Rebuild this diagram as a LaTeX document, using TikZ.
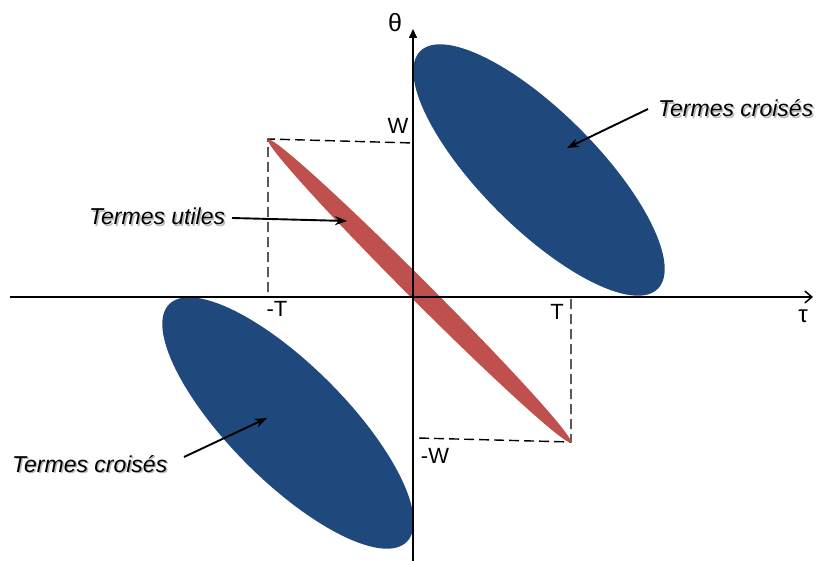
\documentclass[tikz,border=0pt]{standalone}
\usepackage{fontspec}
\setmainfont{Liberation Sans}
\usetikzlibrary{arrows.meta}
\definecolor{cblue}{HTML}{1F497D}
\definecolor{cred}{HTML}{C0504D}
\begin{document}
\begin{tikzpicture}[x=1pt,y=-1pt,
  axis/.style={line width=1.5pt},
  guide/.style={dash pattern=on 10pt off 5pt, line width=1.4pt},
  callout/.style={line width=1.9pt,-{Stealth[length=12pt,width=9pt]}},
  lbl/.style={font=\fontsize{23}{27}\selectfont\itshape, inner sep=0pt, anchor=base west},
  shd/.style={lbl, text=black!28},
  axl/.style={font=\fontsize{22}{25}\selectfont, inner sep=0pt}]
\useasboundingbox (0,0) rectangle (818,561);
% guide corners
\coordinate (tl) at (268,139);
\coordinate (tlx) at (268,292);
\coordinate (wy) at (413,143);
\coordinate (br) at (571,442);
\coordinate (brx) at (571,299);
\coordinate (mwy) at (418,438);
\draw[guide] (tlx) -- (tl) -- (wy);
\draw[guide] (brx) -- (br) -- (mwy);
% ellipses
\fill[cblue, rotate around={-45:(539,170)}] (539,170) ellipse [x radius=168, y radius=58];
\fill[cblue, rotate around={-45:(288,423)}] (288,423) ellipse [x radius=168, y radius=58];
\fill[cred, rotate around={-45:(419.5,291)}] (419.5,291) ellipse [x radius=214, y radius=10.5];
% axes
\coordinate (xs) at (10,297);
\coordinate (xe) at (813,297);
\coordinate (ys) at (413,561);
\coordinate (ye) at (413,29);
\draw[axis,-{Straight Barb[length=7pt,width=12pt,line width=1.5pt]}] (xs) -- (xe);
\draw[axis,-{Triangle[length=9pt,width=8pt]}] (ys) -- (ye);
% axis labels
\node[axl, font=\fontsize{25}{28}\selectfont] (theta) at (395,23) {θ};
\node[axl, font=\fontsize{24}{27}\selectfont] (tau) at (803,316) {τ};
\node[axl] (W) at (398,126) {W};
\node[axl] (mT) at (277,309) {-T};
\node[axl] (T) at (557,312) {T};
\node[axl] (mW) at (435,456) {-W};
% callout labels with shadow
\node[shd] (s1) at (659.5,118.5) {Termes croisés};
\node[lbl] (l1) at (658,117) {Termes croisés};
\node[shd] (s2) at (90.5,226.5) {Termes utiles};
\node[lbl] (l2) at (89,225) {Termes utiles};
\node[shd] (s3) at (13.5,473.5) {Termes croisés};
\node[lbl] (l3) at (12,472) {Termes croisés};
% callout arrows
\coordinate (a1s) at (648,109);
\coordinate (a1e) at (567,148);
\coordinate (a2s) at (232,218);
\coordinate (a2e) at (347,221);
\coordinate (a3s) at (184,457);
\coordinate (a3e) at (267,418);
\draw[callout] (a1s) -- (a1e);
\draw[callout] (a2s) -- (a2e);
\draw[callout] (a3s) -- (a3e);
\end{tikzpicture}
\end{document}
